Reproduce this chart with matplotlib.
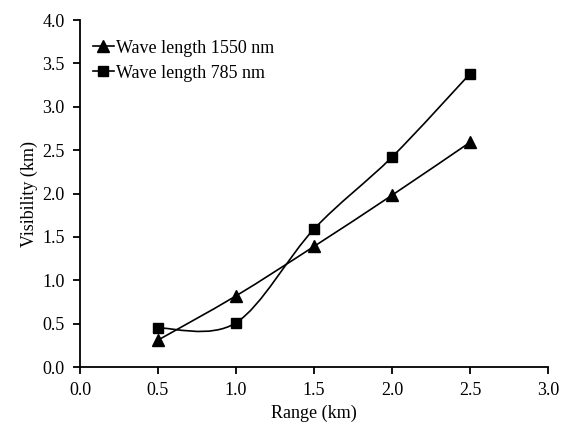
import numpy as np
import matplotlib
matplotlib.use("Agg")
import matplotlib.pyplot as plt
from matplotlib.path import Path
from matplotlib.patches import PathPatch
from matplotlib.lines import Line2D

range_km = [0.5, 1.0, 1.5, 2.0, 2.5]
vis_1550 = [0.31, 0.82, 1.39, 1.98, 2.59]
vis_785 = [0.45, 0.51, 1.59, 2.42, 3.38]
labels = ["Wave length 1550 nm", "Wave length 785 nm"]
xticks = [0.0, 0.5, 1.0, 1.5, 2.0, 2.5, 3.0]
yticks = [0.0, 0.5, 1.0, 1.5, 2.0, 2.5, 3.0, 3.5, 4.0]

plt.rcParams['font.family'] = ['Liberation Serif', 'DejaVu Serif']

fig = plt.figure(figsize=(5.71, 4.38), dpi=100)
ax = fig.add_axes([0.1401, 0.1621, 0.9597 - 0.1401, 0.9543 - 0.1621])


def smooth_path(xs, ys):
    pts = np.column_stack([xs, ys]).astype(float)
    n = len(pts)
    verts = [pts[0]]
    codes = [Path.MOVETO]
    for i in range(n - 1):
        p0 = pts[i - 1] if i > 0 else pts[i]
        p1 = pts[i]
        p2 = pts[i + 1]
        p3 = pts[i + 2] if i + 2 < n else pts[i + 1]
        c1 = p1 + (p2 - p0) / 6.0
        c2 = p2 - (p3 - p1) / 6.0
        verts += [c1, c2, p2]
        codes += [Path.CURVE4] * 3
    return Path(verts, codes)


for ys, mk, ms in [(vis_1550, '^', 8), (vis_785, 's', 7)]:
    patch = PathPatch(smooth_path(range_km, ys), facecolor='none',
                      edgecolor='black', lw=1.2)
    ax.add_patch(patch)
    ax.plot(range_km, ys, linestyle='none', marker=mk, color='black',
            markersize=ms)

handles = [Line2D([], [], color='black', lw=1.2, marker='^', markersize=8),
           Line2D([], [], color='black', lw=1.2, marker='s', markersize=7)]
ax.legend(handles, labels, loc='upper left', bbox_to_anchor=(0.0, 0.98),
          frameon=False, fontsize=13, handlelength=1.2, handletextpad=0.1,
          labelspacing=0.45, borderaxespad=0.3)

ax.set_xlim(0, 3.0)
ax.set_ylim(0, 4.0)
ax.set_xticks(xticks)
ax.set_yticks(yticks)
ax.set_xticklabels([f"{v:.1f}" for v in xticks])
ax.set_yticklabels([f"{v:.1f}" for v in yticks])
ax.spines['top'].set_visible(False)
ax.spines['right'].set_visible(False)
for s in ['left', 'bottom']:
    ax.spines[s].set_linewidth(1.3)
ax.tick_params(direction='out', length=5, width=1.3, labelsize=13, pad=6)
ax.set_xlabel("Range (km)", fontsize=13, labelpad=4)
ax.set_ylabel("Visibility (km)", fontsize=13, labelpad=3)

fig.savefig("out.png", dpi=100)
